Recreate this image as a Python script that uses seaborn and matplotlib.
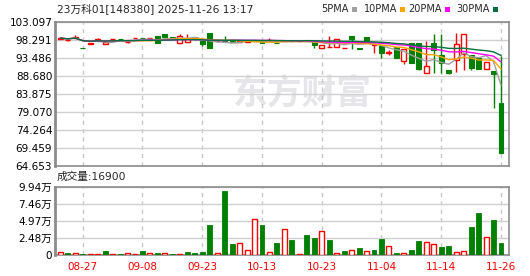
import numpy as np
import pandas as pd
import matplotlib
matplotlib.use("Agg")
import matplotlib.pyplot as plt
from matplotlib.patches import Rectangle
import seaborn as sns

# ---------------- data ----------------
title = "23万科01[148380] 2025-11-26 13:17"
vol_title = "成交量:16900"
date_labels = ["08-27", "09-08", "09-23", "10-13", "10-23", "11-04", "11-14", "11-26"]
date_pos = [3, 11, 19, 27, 35, 43, 51, 59]

opens = [98.6, 98.3, 98.8, 96.1, 97.35, 98.4, 97.1, 98.45, 98.5, 97.7,
         98.7, 98.75, 98.7, 99.4, 99.9, 99.0, 97.4, 97.7, 99.0, 98.1,
         100.2, 98.05, 98.3, 97.9, 97.8, 97.85, 97.9, 97.7, 98.2, 97.5,
         97.95, 98.0, 97.95, 98.0, 98.0, 96.2, 96.45, 96.3, 96.15, 99.4,
         96.2, 99.0, 96.9, 96.7, 94.7, 96.5, 92.7, 97.4, 97.4, 89.6,
         97.4, 94.3, 90.3, 93.0, 94.5, 94.3, 93.4, 90.5, 90.0, 81.4]
highs = [98.9, 98.75, 99.6, 96.1, 97.4, 98.75, 98.3, 98.5, 98.5, 97.9,
         98.75, 98.75, 98.75, 99.4, 99.9, 99.0, 99.8, 99.8, 99.0, 98.1,
         100.2, 98.1, 99.35, 97.9, 97.9, 97.9, 98.0, 97.7, 98.8, 97.5,
         98.0, 98.0, 98.0, 98.0, 98.0, 96.96, 99.45, 98.5, 96.2, 99.4,
         96.2, 99.0, 97.6, 96.7, 95.5, 96.5, 95.8, 97.4, 97.4, 98.0,
         99.8, 99.8, 90.3, 100.1, 99.9, 94.3, 93.4, 92.5, 90.0, 94.0]
lows = [98.6, 98.0, 98.8, 96.05, 97.35, 98.0, 97.1, 98.45, 98.45, 97.6,
        98.7, 98.7, 98.7, 97.6, 99.0, 98.95, 97.4, 97.7, 98.2, 96.7,
        96.2, 98.05, 98.0, 97.85, 97.8, 97.85, 97.9, 97.6, 98.2, 97.4,
        97.95, 97.95, 97.95, 97.9, 96.1, 96.2, 96.45, 96.3, 96.15, 96.0,
        95.8, 97.8, 94.7, 93.4, 94.3, 93.4, 91.8, 92.1, 90.2, 89.4,
        89.4, 89.4, 89.2, 89.8, 90.3, 90.3, 90.5, 90.5, 80.2, 68.2]
closes = [98.8, 98.4, 99.2, 96.05, 97.4, 98.5, 97.7, 98.5, 98.45, 97.85,
          98.75, 98.7, 98.75, 97.6, 99.2, 98.95, 99.4, 98.6, 98.7, 97.3,
          96.2, 98.1, 98.0, 97.85, 97.9, 97.9, 98.0, 97.6, 98.3, 97.4,
          98.0, 97.95, 98.0, 97.9, 96.96, 96.96, 96.55, 98.5, 96.2, 98.6,
          95.8, 97.8, 97.3, 94.7, 95.2, 93.4, 95.8, 92.1, 90.5, 91.3,
          95.6, 92.1, 89.6, 97.2, 99.8, 90.7, 90.5, 92.5, 89.1, 68.2]
volumes = [4900, 2400, 3400, 1500, 1000, 1000, 5400, 1000, 1000, 3400,
           1000, 5400, 2400, 2400, 3400, 1000, 1000, 3900, 2400, 3900,
           43400, 3400, 93100, 15600, 18000, 7800, 53100, 43600, 5000, 17300,
           38700, 21900, 1500, 29200, 24900, 35100, 21900, 2900, 5800, 7300,
           10200, 5800, 7300, 23400, 13200, 2900, 2900, 7300, 20500, 19000,
           16100, 11700, 13200, 4400, 5800, 40900, 61400, 26300, 51200, 16900]
vol_up = [1, 0, 1, 0, 1, 1, 0, 1, 0, 1,
          1, 0, 1, 0, 1, 0, 1, 0, 0, 0,
          0, 1, 0, 0, 1, 1, 1, 0, 1, 0,
          1, 0, 1, 0, 0, 1, 0, 1, 0, 1,
          0, 1, 0, 0, 1, 0, 1, 0, 0, 1,
          1, 0, 0, 1, 1, 0, 0, 1, 0, 0]

price_ticks = [64.653, 69.459, 74.264, 79.070, 83.875, 88.680, 93.486, 98.291, 103.097]
vol_ticks = [0, 24800, 49700, 74600, 99400]
vol_tick_labels = ["0", "2.48万", "4.97万", "7.46万", "9.94万"]
ma_windows = [5, 10, 20, 30]
ma_names = ["5PMA", "10PMA", "20PMA", "30PMA"]
ma_colors = ["#A0A0A0", "#FFA500", "#FF00FF", "#00703C"]

# ---------------- style ----------------
sns.set_style("white")
plt.rcParams["font.family"] = ["DejaVu Sans", "Noto Sans CJK SC"]

W, H = 530, 276
fig = plt.figure(figsize=(W / 100, H / 100), dpi=100)


def fbox(l, t, r, b):
    return [l / W, 1 - b / H, (r - l) / W, (b - t) / H]


axp = fig.add_axes(fbox(55, 22, 509, 166))
axv = fig.add_axes(fbox(55, 187, 509, 255))

df = pd.DataFrame({"o": opens, "h": highs, "l": lows, "c": closes, "v": volumes, "vu": vol_up})
df["i"] = np.arange(len(df))
up = df["c"] >= df["o"]
RED, GREEN = "#FF0000", "#008000"
bw = 0.66

# watermark
axp.text(0.545, 0.51, "东方财富", transform=axp.transAxes, ha="center", va="center",
         fontsize=25, fontweight="bold", color="#E6E6EA", family=["Noto Sans CJK SC"], zorder=0)

# candles
for _, r in df.iterrows():
    i = r["i"]
    if r["c"] >= r["o"]:
        top, bot = r["c"], r["o"]
        if r["h"] > top:
            axp.vlines(i, top, r["h"], color=RED, lw=1, zorder=3)
        if r["l"] < bot:
            axp.vlines(i, r["l"], bot, color=RED, lw=1, zorder=3)
    else:
        axp.vlines(i, r["l"], r["h"], color=GREEN, lw=1, zorder=3)

d_up = df[up]
d_dn = df[~up]
axp.bar(d_up["i"], np.maximum((d_up["c"] - d_up["o"]).values, 0.02), bottom=d_up["o"], width=bw,
        facecolor="white", edgecolor=RED, linewidth=1, zorder=4)
axp.bar(d_dn["i"], np.maximum((d_dn["o"] - d_dn["c"]).values, 0.02), bottom=d_dn["c"], width=bw,
        facecolor=GREEN, edgecolor=GREEN, linewidth=0.8, zorder=4)

# moving averages
for w, c in zip(ma_windows, ma_colors):
    ma = df["c"].rolling(w, min_periods=1).mean()
    sns.lineplot(x=df["i"], y=ma, ax=axp, color=c, linewidth=1, zorder=5, legend=False)

# volume
vu = df[df["vu"] == 1]
vd = df[df["vu"] == 0]
axv.bar(vu["i"], vu["v"], width=bw, facecolor="white", edgecolor=RED, linewidth=1, zorder=3)
axv.bar(vd["i"], vd["v"], width=bw, facecolor=GREEN, edgecolor=GREEN, linewidth=0.6, zorder=3)

xlim = (-0.71, 60.07)
for ax in (axp, axv):
    ax.set_xlim(*xlim)
    ax.set_xticks(date_pos)
    ax.set_xlabel("")
    ax.set_ylabel("")
    ax.grid(False)
    ax.yaxis.grid(True, color="#D0D0D0", lw=1)
    ax.xaxis.grid(True, color="#C8C8C8", lw=1, ls=(0, (3, 3)))
    ax.set_axisbelow(True)
    for s in ax.spines.values():
        s.set_color("#8C8C8C")
        s.set_linewidth(1.2)
    ax.spines["left"].set_linewidth(2)
    ax.tick_params(length=0, pad=2, labelsize=7.5, colors="black")

axp.set_ylim(price_ticks[0], price_ticks[-1])
axp.set_yticks(price_ticks)
axp.set_yticklabels([f"{t:.3f}" for t in price_ticks])
axp.set_xticklabels([])

axv.set_ylim(0, vol_ticks[-1])
axv.set_yticks(vol_ticks)
axv.set_yticklabels(vol_tick_labels)
axv.set_xticklabels(date_labels)
axv.tick_params(axis="x", colors=RED, pad=5)
for t in axv.get_yticklabels() + axp.get_yticklabels():
    t.set_color("black")

# header texts
fig.text(57 / W, 1 - 9 / H, title, fontsize=7.7, va="center", ha="left")
fig.text(57 / W, 1 - 177 / H, vol_title, fontsize=7.7, va="center", ha="left")

sq_x = [352, 400, 445, 493]
for name, c, sx in zip(ma_names, ma_colors, sq_x):
    fig.text((sx - 3) / W, 1 - 9 / H, name, fontsize=7, va="center", ha="right")
    fig.add_artist(Rectangle((sx / W, 1 - 11.5 / H), 5 / W, 5 / H, transform=fig.transFigure,
                             facecolor=c, edgecolor="none"))

fig.savefig("out.png", dpi=100)
